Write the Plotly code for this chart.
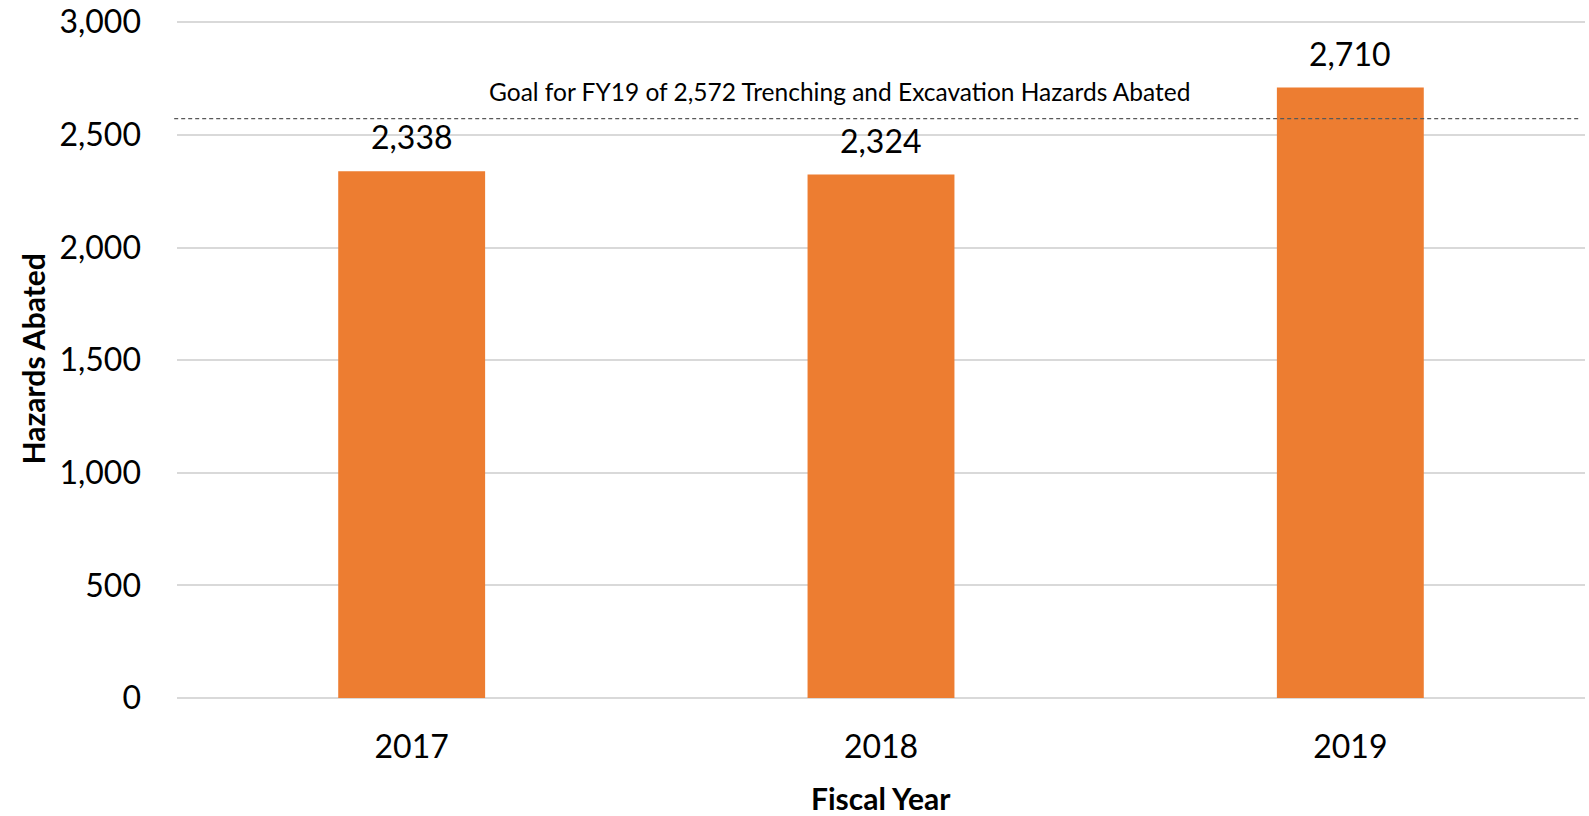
import plotly.graph_objects as go

years = ["2017", "2018", "2019"]
hazards_abated = [2338, 2324, 2710]
goal_value = 2572
goal_label = "Goal for FY19 of 2,572 Trenching and Excavation Hazards Abated"
y_ticks = [0, 500, 1000, 1500, 2000, 2500, 3000]
y_tick_text = ["0", "500", "1,000", "1,500", "2,000", "2,500", "3,000"]

FONT = "Lato, Carlito, Calibri, sans-serif"

fig = go.Figure()
fig.add_trace(go.Bar(
    x=years, y=hazards_abated,
    marker=dict(color="#ED7D31", line=dict(width=0)),
    width=0.313,
    hoverinfo="x+y",
))

for i, v in enumerate(hazards_abated):
    fig.add_annotation(x=i, y=v, text=f"{v:,}", showarrow=False,
                       yanchor="bottom", yshift=13,
                       font=dict(family=FONT, size=32, color="#000000"))

fig.add_shape(type="line", xref="paper", yref="y",
              x0=-0.002, x1=0.997, y0=goal_value, y1=goal_value,
              line=dict(color="#595959", width=1.3, dash="4px,3px"))
fig.add_annotation(xref="paper", yref="y", x=0.4705, y=goal_value,
                   text=goal_label, showarrow=False, yanchor="bottom", yshift=11,
                   font=dict(family=FONT, size=24.5, color="#000000"))

fig.add_annotation(xref="paper", yref="paper", x=-0.102, y=0.5,
                   text="<b>Hazards Abated</b>", textangle=-90, showarrow=False,
                   xanchor="center", yanchor="middle",
                   font=dict(family=FONT, size=30, color="#000000"))
fig.add_annotation(xref="paper", yref="paper", x=0.5, y=-0.147,
                   text="<b>Fiscal Year</b>", showarrow=False,
                   xanchor="center", yanchor="middle",
                   font=dict(family=FONT, size=30, color="#000000"))

fig.update_layout(
    width=1589, height=816,
    margin=dict(l=177, r=4, t=20, b=118, autoexpand=False),
    plot_bgcolor="white", paper_bgcolor="white",
    showlegend=False,
    font=dict(family=FONT, size=32, color="#000000"),
    xaxis=dict(type="category", range=[-0.5, 2.5], showgrid=False,
               showline=False, zeroline=False, ticks="", automargin=False,
               ticklabelstandoff=27,
               tickfont=dict(family=FONT, size=32, color="#000000")),
    yaxis=dict(range=[0, 3010], tickvals=y_ticks, ticktext=y_tick_text,
               showgrid=True, gridcolor="#D9D9D9", gridwidth=2,
               zeroline=True, zerolinecolor="#D9D9D9", zerolinewidth=2,
               showline=False, ticks="", ticklabelstandoff=35, automargin=False,
               tickfont=dict(family=FONT, size=32, color="#000000")),
)

fig.write_html("out.html", config={"displayModeBar": False},
               post_script="document.body.style.margin='0';document.body.style.overflow='hidden';")
